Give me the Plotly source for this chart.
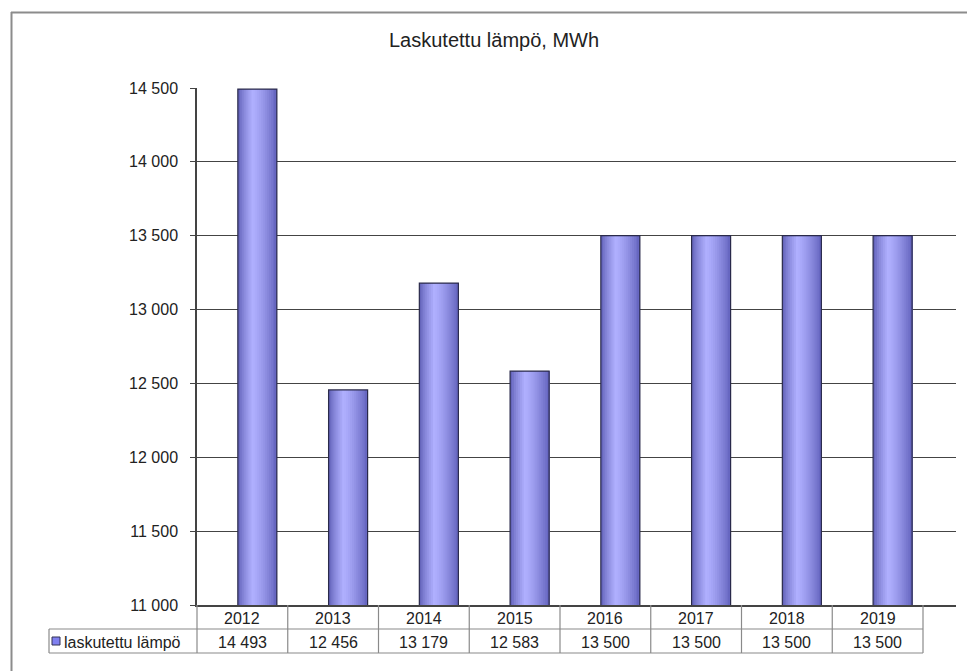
import plotly.graph_objects as go

# ---- data ----
years = ["2012", "2013", "2014", "2015", "2016", "2017", "2018", "2019"]
values = [14493, 12456, 13179, 12583, 13500, 13500, 13500, 13500]
value_labels = ["14 493", "12 456", "13 179", "12 583", "13 500", "13 500", "13 500", "13 500"]
series_name = "laskutettu lämpö"
title_text = "Laskutettu lämpö, MWh"
y_ticks = [11000, 11500, 12000, 12500, 13000, 13500, 14000, 14500]
y_ticktext = ["11 000", "11 500", "12 000", "12 500", "13 000", "13 500", "14 000", "14 500"]

# ---- layout geometry (pixels) ----
W, H = 967, 671
PL, PR, PT, PB = 197, 956, 88, 605
col_w = 90.75
x_min = -0.5
x_max = x_min + (PR - PL) / col_w
FONT = "Liberation Sans, Arial, sans-serif"

def px2x(px):
    return (px - PL) / (PR - PL)

def py2y(py):
    return (PB - py) / (PB - PT)

def cat2px(c):
    return PL + (c - x_min) * col_w

fig = go.Figure()

# gradient bars (cylinder look) by overlaid strips
bar_off = -0.05
bar_w = 0.43
N = 20
def shade(t):
    dark_l = (88, 88, 176)
    peak = (176, 176, 255)
    dark_r = (100, 100, 190)
    tp = 0.38
    if t <= tp:
        a = t / tp
        c = [dark_l[i] + (peak[i] - dark_l[i]) * (a ** 0.7) for i in range(3)]
    else:
        a = (t - tp) / (1 - tp)
        c = [peak[i] + (dark_r[i] - peak[i]) * (a ** 1.3) for i in range(3)]
    return "rgb(%d,%d,%d)" % tuple(int(v) for v in c)

xs = list(range(len(years)))
for k in range(N):
    t = (k + 0.5) / N
    start = bar_off + k * bar_w / N
    fig.add_trace(go.Bar(
        x=xs, y=values, width=bar_off + bar_w - start, offset=start,
        marker=dict(color=shade(t), line=dict(width=0)),
        showlegend=False, hoverinfo="skip"))
fig.add_trace(go.Bar(
    x=xs, y=values, width=bar_w, offset=bar_off,
    marker=dict(color="rgba(0,0,0,0)", line=dict(color="#2a2a4a", width=1.2)),
    showlegend=False, name=series_name))

fig.update_layout(
    width=W, height=H,
    margin=dict(l=PL, r=W - PR, t=PT, b=H - PB),
    paper_bgcolor="white", plot_bgcolor="white",
    barmode="overlay",
    font=dict(family=FONT, size=16, color="#222"),
    showlegend=False,
    xaxis=dict(range=[x_min, x_max], showticklabels=False, showgrid=False,
               zeroline=False, showline=True, linecolor="#444", linewidth=1.5,
               ticks=""),
    yaxis=dict(range=[11000, 14500], tickvals=y_ticks, ticktext=y_ticktext,
               showgrid=True, gridcolor="#444", gridwidth=1.2,
               zeroline=False, showline=True, linecolor="#444", linewidth=1.5,
               ticks="outside", ticklen=5, tickcolor="#444",
               ticklabelstandoff=9, tickfont=dict(size=16, color="#222")),
)

shapes = []
ann = []
line_c = "#8a8a8a"
# outer frame
shapes.append(dict(type="line", xref="paper", yref="paper",
                   x0=px2x(11), x1=px2x(975), y0=py2y(12.5), y1=py2y(12.5),
                   line=dict(color="#8c8c8c", width=2)))
shapes.append(dict(type="line", xref="paper", yref="paper",
                   x0=px2x(11.5), x1=px2x(11.5), y0=py2y(12), y1=py2y(680),
                   line=dict(color="#8c8c8c", width=2)))

# data table
row1_top, row1_bot, row2_bot = 605, 629, 653
tbl_left = 49
tbl_right = cat2px(len(years) - 0.5)
for k in range(len(years) + 1):
    xp = cat2px(k - 0.5)
    shapes.append(dict(type="line", xref="paper", yref="paper",
                       x0=px2x(xp), x1=px2x(xp), y0=py2y(row1_top), y1=py2y(row2_bot),
                       line=dict(color=line_c, width=1.2)))
shapes.append(dict(type="line", xref="paper", yref="paper",
                   x0=px2x(tbl_left), x1=px2x(tbl_right), y0=py2y(row1_bot), y1=py2y(row1_bot),
                   line=dict(color=line_c, width=1.2)))
shapes.append(dict(type="line", xref="paper", yref="paper",
                   x0=px2x(tbl_left), x1=px2x(tbl_right), y0=py2y(row2_bot), y1=py2y(row2_bot),
                   line=dict(color=line_c, width=1.2)))
shapes.append(dict(type="line", xref="paper", yref="paper",
                   x0=px2x(tbl_left), x1=px2x(tbl_left), y0=py2y(row1_bot), y1=py2y(row2_bot),
                   line=dict(color=line_c, width=1.2)))
# legend key
shapes.append(dict(type="rect", xref="paper", yref="paper",
                   x0=px2x(52), x1=px2x(60), y0=py2y(645), y1=py2y(637),
                   fillcolor="#8080f0", line=dict(color="#333355", width=1)))

for i, (yr, vl) in enumerate(zip(years, value_labels)):
    ann.append(dict(x=px2x(cat2px(i)), y=py2y((row1_top + row1_bot) / 2 + 1), xref="paper", yref="paper",
                    text=yr, showarrow=False, xanchor="center", yanchor="middle",
                    font=dict(size=16, color="#222")))
    ann.append(dict(x=px2x(cat2px(i)), y=py2y((row1_bot + row2_bot) / 2 + 1), xref="paper", yref="paper",
                    text=vl, showarrow=False, xanchor="center", yanchor="middle",
                    font=dict(size=16, color="#222")))
ann.append(dict(x=px2x(62), y=py2y((row1_bot + row2_bot) / 2 + 1), xref="paper", yref="paper",
                text=series_name, showarrow=False, xanchor="left", yanchor="middle",
                font=dict(size=16, color="#222")))
# title
ann.append(dict(x=px2x(494), y=py2y(40), xref="paper", yref="paper",
                text=title_text, showarrow=False, xanchor="center", yanchor="middle",
                font=dict(size=20, color="#222")))

fig.update_layout(shapes=shapes, annotations=ann)
fig.write_html("out.html", config={"displayModeBar": False},
               post_script="document.body.style.margin='0';document.body.style.overflow='hidden';")
